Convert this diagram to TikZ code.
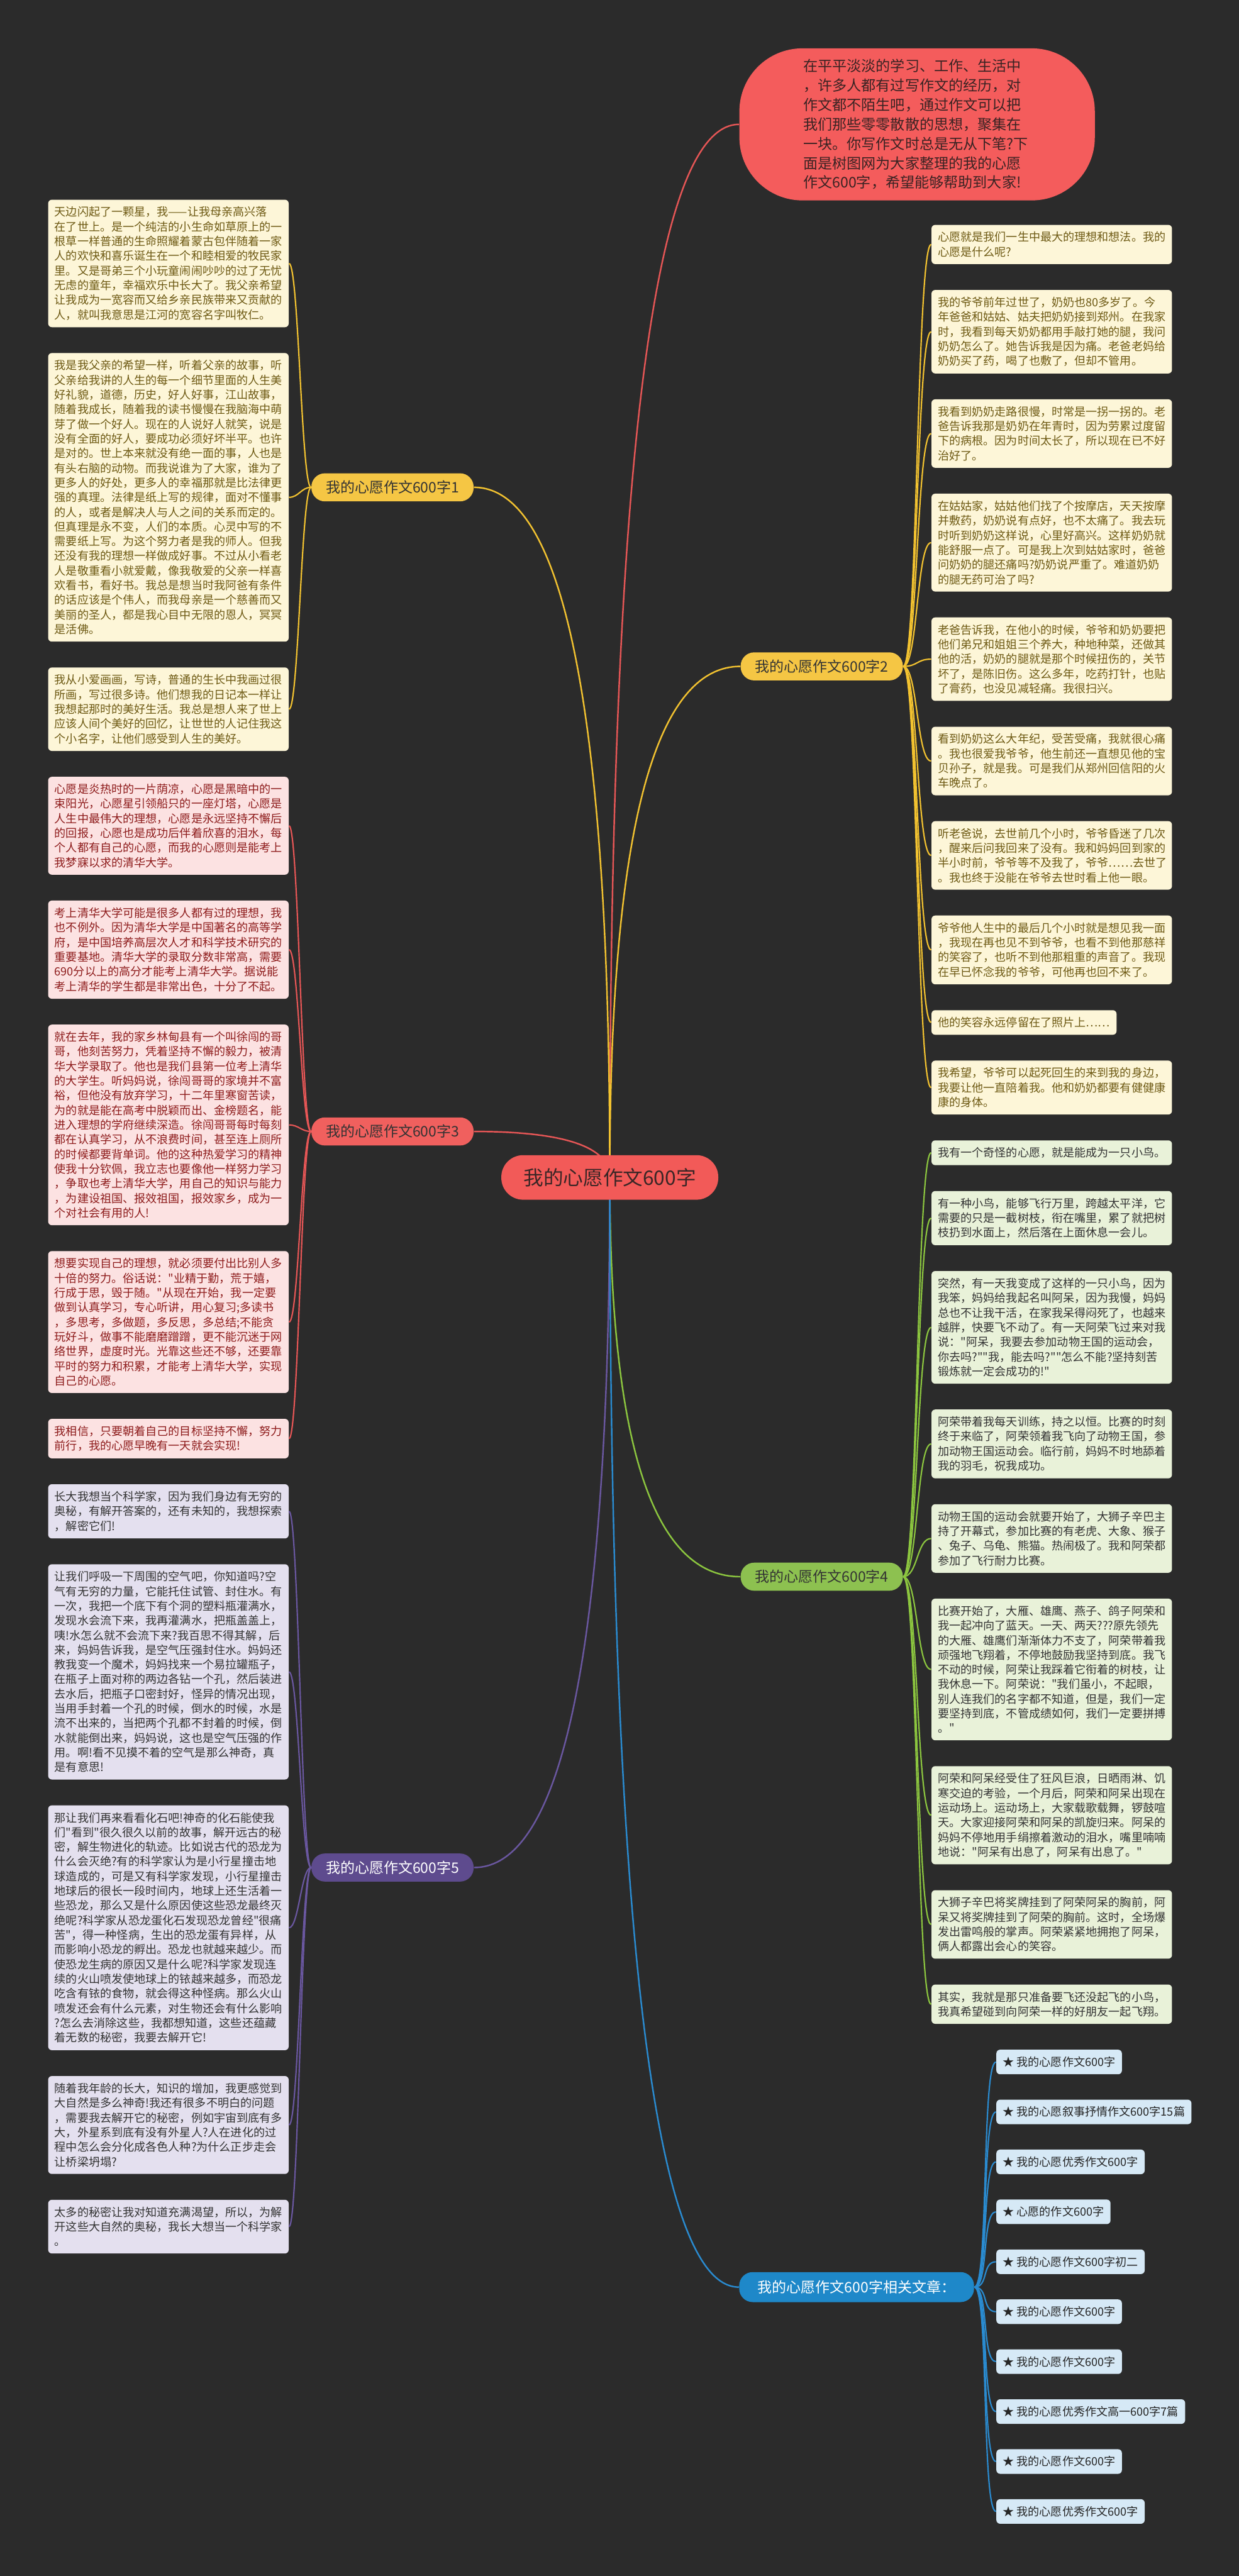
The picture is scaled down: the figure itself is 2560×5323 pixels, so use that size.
\documentclass[tikz,border=0pt]{standalone}
\usepackage{fontspec}
\newfontfamily\cjk{Noto Sans CJK SC}
\usepackage{xcolor}
\usepackage{tikz}
\usetikzlibrary{positioning, backgrounds}

\definecolor{bgdark}{HTML}{2B2B2B}
\definecolor{rootred}{HTML}{F25A58}
\definecolor{roottext}{HTML}{3A2626}
\definecolor{introred}{HTML}{F45C5C}
\definecolor{introtext}{HTML}{3A2323}
\definecolor{ypill}{HTML}{F5C644}
\definecolor{yline}{HTML}{F2C230}
\definecolor{yleafbg}{HTML}{FDF6D8}
\definecolor{yleaftx}{HTML}{6E5A14}
\definecolor{rpill}{HTML}{F0605E}
\definecolor{rline}{HTML}{E65656}
\definecolor{rleafbg}{HTML}{FCE2E2}
\definecolor{rleaftx}{HTML}{8E1C1C}
\definecolor{gpill}{HTML}{8DC150}
\definecolor{gline}{HTML}{8CC63F}
\definecolor{gleafbg}{HTML}{E9F2D9}
\definecolor{ppill}{HTML}{5E4B8E}
\definecolor{pline}{HTML}{6A57A0}
\definecolor{pleafbg}{HTML}{E4E0EF}
\definecolor{bpill}{HTML}{1E88C9}
\definecolor{bline}{HTML}{2A8BD0}
\definecolor{bleafbg}{HTML}{D6E9F6}
\definecolor{leaftx}{HTML}{333333}

\newcommand{\leaffont}{\cjk\fontsize{6.69pt}{8.62pt}\selectfont}
\newcommand{\pillfont}{\cjk\fontsize{8.5pt}{10pt}\selectfont}
\newcommand{\rootfont}{\cjk\fontsize{11.7pt}{14pt}\selectfont}
\newcommand{\introfont}{\cjk\fontsize{8.54pt}{11.4pt}\selectfont}

\tikzset{
  chip/.style={rectangle, rounded corners=2.2pt, inner xsep=3.8pt, inner ysep=4.1pt, font=\leaffont},
  leaf/.style={chip, align=left, text width=4.70cm},
  yleaf/.style={leaf, fill=yleafbg, text=yleaftx},
  rleaf/.style={leaf, fill=rleafbg, text=rleaftx},
  gleaf/.style={leaf, fill=gleafbg, text=leaftx},
  pleaf/.style={leaf, fill=pleafbg, text=leaftx},
  tag/.style={chip, fill=bleafbg, text=black!85},
  pill/.style={rectangle, rounded corners=0.28cm, minimum width=3.35cm, minimum height=0.58cm, font=\pillfont, text=leaftx},
  root/.style={rectangle, rounded corners=0.45cm, fill=rootred, text=roottext, minimum width=4.48cm, minimum height=0.92cm, font=\rootfont},
  intro/.style={rectangle, rounded corners=1.3cm, fill=introred, text=introtext, align=left, text width=4.70cm, inner xsep=1.32cm, minimum height=3.14cm, font=\introfont},
  link/.style={line width=0.9pt},
  twig/.style={line width=0.8pt},
  kidL/.style={out=180, in=0, distance=0.2cm},
  kidR/.style={out=0, in=180, distance=0.3cm},
}

\begin{document}
\begin{tikzpicture}[x=0.01cm, y=0.01cm]
        % Canvas
        \useasboundingbox (0,0) rectangle (2560,-5323);
        \begin{scope}[on background layer]
          \fill[bgdark] (0,0) rectangle (2560,-5323);
        \end{scope}

        % Root
        \node[root] (root) at (1260,-2433) {我的心愿作文600字};

        % Intro
        \node[intro] (intro) at (1895,-257) {在平平淡淡的学习、工作、生活中\\
，许多人都有过写作文的经历，对\\
作文都不陌生吧，通过作文可以把\\
我们那些零零散散的思想，聚集在\\
一块。你写作文时总是无从下笔?下\\
面是树图网为大家整理的我的心愿\\
作文600字，希望能够帮助到大家!};

        % Branches
        \node[pill, fill=ypill] (br1) at (811,-1007) {我的心愿作文600字1};
        \node[pill, fill=ypill] (br2) at (1698,-1377) {我的心愿作文600字2};
        \node[pill, fill=rpill] (br3) at (811,-2338) {我的心愿作文600字3};
        \node[pill, fill=gpill] (br4) at (1698,-3258) {我的心愿作文600字4};
        \node[pill, fill=ppill, text=white] (br5) at (811,-3859) {我的心愿作文600字5};
        \node[pill, fill=bpill, text=white, minimum width=4.85cm, minimum height=0.62cm] (br6) at (1770,-4726) {我的心愿作文600字相关文章：};

        % Branch 1 leaves
        \node[yleaf, anchor=north] (l1a) at (348,-412) {天边闪起了一颗星，我——让我母亲高兴落\\
在了世上。是一个纯洁的小生命如草原上的一\\
根草一样普通的生命照耀着蒙古包伴随着一家\\
人的欢快和喜乐诞生在一个和睦相爱的牧民家\\
里。又是哥弟三个小玩童闹闹吵吵的过了无忧\\
无虑的童年，幸福欢乐中长大了。我父亲希望\\
让我成为一宽容而又给乡亲民族带来又贡献的\\
人，就叫我意思是江河的宽容名字叫牧仁。};
        \node[yleaf, below=0.52cm of l1a] (l1b) {我是我父亲的希望一样，听着父亲的故事，听\\
父亲给我讲的人生的每一个细节里面的人生美\\
好礼貌，道德，历史，好人好事，江山故事，\\
随着我成长，随着我的读书慢慢在我脑海中萌\\
芽了做一个好人。现在的人说好人就笑，说是\\
没有全面的好人，要成功必须好坏半平。也许\\
是对的。世上本来就没有绝一面的事，人也是\\
有头右脑的动物。而我说谁为了大家，谁为了\\
更多人的好处，更多人的幸福那就是比法律更\\
强的真理。法律是纸上写的规律，面对不懂事\\
的人，或者是解决人与人之间的关系而定的。\\
但真理是永不变，人们的本质。心灵中写的不\\
需要纸上写。为这个努力者是我的师人。但我\\
还没有我的理想一样做成好事。不过从小看老\\
人是敬重看小就爱戴，像我敬爱的父亲一样喜\\
欢看书，看好书。我总是想当时我阿爸有条件\\
的话应该是个伟人，而我母亲是一个慈善而又\\
美丽的圣人，都是我心目中无限的恩人，冥冥\\
是活佛。};
        \node[yleaf, below=0.52cm of l1b] (l1c) {我从小爱画画，写诗，普通的生长中我画过很\\
所画，写过很多诗。他们想我的日记本一样让\\
我想起那时的美好生活。我总是想人来了世上\\
应该人间个美好的回忆，让世世的人记住我这\\
个小名字，让他们感受到人生的美好。};

        % Branch 3 leaves
        \node[rleaf, below=0.52cm of l1c] (l3a) {心愿是炎热时的一片荫凉，心愿是黑暗中的一\\
束阳光，心愿星引领船只的一座灯塔，心愿是\\
人生中最伟大的理想，心愿是永远坚持不懈后\\
的回报，心愿也是成功后伴着欣喜的泪水，每\\
个人都有自己的心愿，而我的心愿则是能考上\\
我梦寐以求的清华大学。};
        \node[rleaf, below=0.52cm of l3a] (l3b) {考上清华大学可能是很多人都有过的理想，我\\
也不例外。因为清华大学是中国著名的高等学\\
府，是中国培养高层次人才和科学技术研究的\\
重要基地。清华大学的录取分数非常高，需要\\
690分以上的高分才能考上清华大学。据说能\\
考上清华的学生都是非常出色，十分了不起。};
        \node[rleaf, below=0.52cm of l3b] (l3c) {就在去年，我的家乡林甸县有一个叫徐闯的哥\\
哥，他刻苦努力，凭着坚持不懈的毅力，被清\\
华大学录取了。他也是我们县第一位考上清华\\
的大学生。听妈妈说，徐闯哥哥的家境并不富\\
裕，但他没有放弃学习，十二年里寒窗苦读，\\
为的就是能在高考中脱颖而出、金榜题名，能\\
进入理想的学府继续深造。徐闯哥哥每时每刻\\
都在认真学习，从不浪费时间，甚至连上厕所\\
的时候都要背单词。他的这种热爱学习的精神\\
使我十分钦佩，我立志也要像他一样努力学习\\
，争取也考上清华大学，用自己的知识与能力\\
，为建设祖国、报效祖国，报效家乡，成为一\\
个对社会有用的人!};
        \node[rleaf, below=0.52cm of l3c] (l3d) {想要实现自己的理想，就必须要付出比别人多\\
十倍的努力。俗话说："业精于勤，荒于嬉，\\
行成于思，毁于随。"从现在开始，我一定要\\
做到认真学习，专心听讲，用心复习;多读书\\
，多思考，多做题，多反思，多总结;不能贪\\
玩好斗，做事不能磨磨蹭蹭，更不能沉迷于网\\
络世界，虚度时光。光靠这些还不够，还要靠\\
平时的努力和积累，才能考上清华大学，实现\\
自己的心愿。};
        \node[rleaf, below=0.52cm of l3d] (l3e) {我相信，只要朝着自己的目标坚持不懈，努力\\
前行，我的心愿早晚有一天就会实现!};

        % Branch 5 leaves
        \node[pleaf, below=0.52cm of l3e] (l5a) {长大我想当个科学家，因为我们身边有无穷的\\
奥秘，有解开答案的，还有未知的，我想探索\\
，解密它们!};
        \node[pleaf, below=0.52cm of l5a] (l5b) {让我们呼吸一下周围的空气吧，你知道吗?空\\
气有无穷的力量，它能托住试管、封住水。有\\
一次，我把一个底下有个洞的塑料瓶灌满水，\\
发现水会流下来，我再灌满水，把瓶盖盖上，\\
咦!水怎么就不会流下来?我百思不得其解，后\\
来，妈妈告诉我，是空气压强封住水。妈妈还\\
教我变一个魔术，妈妈找来一个易拉罐瓶子，\\
在瓶子上面对称的两边各钻一个孔，然后装进\\
去水后，把瓶子口密封好，怪异的情况出现，\\
当用手封着一个孔的时候，倒水的时候，水是\\
流不出来的，当把两个孔都不封着的时候，倒\\
水就能倒出来，妈妈说，这也是空气压强的作\\
用。啊!看不见摸不着的空气是那么神奇，真\\
是有意思!};
        \node[pleaf, below=0.52cm of l5b] (l5c) {那让我们再来看看化石吧!神奇的化石能使我\\
们"看到"很久很久以前的故事，解开远古的秘\\
密，解生物进化的轨迹。比如说古代的恐龙为\\
什么会灭绝?有的科学家认为是小行星撞击地\\
球造成的，可是又有科学家发现，小行星撞击\\
地球后的很长一段时间内，地球上还生活着一\\
些恐龙，那么又是什么原因使这些恐龙最终灭\\
绝呢?科学家从恐龙蛋化石发现恐龙曾经"很痛\\
苦"，得一种怪病，生出的恐龙蛋有异样，从\\
而影响小恐龙的孵出。恐龙也就越来越少。而\\
使恐龙生病的原因又是什么呢?科学家发现连\\
续的火山喷发使地球上的铱越来越多，而恐龙\\
吃含有铱的食物，就会得这种怪病。那么火山\\
喷发还会有什么元素，对生物还会有什么影响\\
?怎么去消除这些，我都想知道，这些还蕴藏\\
着无数的秘密，我要去解开它!};
        \node[pleaf, below=0.52cm of l5c] (l5d) {随着我年龄的长大，知识的增加，我更感觉到\\
大自然是多么神奇!我还有很多不明白的问题\\
，需要我去解开它的秘密，例如宇宙到底有多\\
大，外星系到底有没有外星人?人在进化的过\\
程中怎么会分化成各色人种?为什么正步走会\\
让桥梁坍塌?};
        \node[pleaf, below=0.52cm of l5d] (l5e) {太多的秘密让我对知道充满渴望，所以，为解\\
开这些大自然的奥秘，我长大想当一个科学家\\
。};

        % Branch 2 leaves
        \node[yleaf, anchor=north west] (r2a) at (1924,-464) {心愿就是我们一生中最大的理想和想法。我的\\
心愿是什么呢?};
        \node[yleaf, below right=0.52cm and 0cm of r2a.south west] (r2b) {我的爷爷前年过世了，奶奶也80多岁了。今\\
年爸爸和姑姑、姑夫把奶奶接到郑州。在我家\\
时，我看到每天奶奶都用手敲打她的腿，我问\\
奶奶怎么了。她告诉我是因为痛。老爸老妈给\\
奶奶买了药，喝了也敷了，但却不管用。};
        \node[yleaf, below right=0.52cm and 0cm of r2b.south west] (r2c) {我看到奶奶走路很慢，时常是一拐一拐的。老\\
爸告诉我那是奶奶在年青时，因为劳累过度留\\
下的病根。因为时间太长了，所以现在已不好\\
治好了。};
        \node[yleaf, below right=0.52cm and 0cm of r2c.south west] (r2d) {在姑姑家，姑姑他们找了个按摩店，天天按摩\\
并敷药，奶奶说有点好，也不太痛了。我去玩\\
时听到奶奶这样说，心里好高兴。这样奶奶就\\
能舒服一点了。可是我上次到姑姑家时，爸爸\\
问奶奶的腿还痛吗?奶奶说严重了。难道奶奶\\
的腿无药可治了吗?};
        \node[yleaf, below right=0.52cm and 0cm of r2d.south west] (r2e) {老爸告诉我，在他小的时候，爷爷和奶奶要把\\
他们弟兄和姐姐三个养大，种地种菜，还做其\\
他的活，奶奶的腿就是那个时候扭伤的，关节\\
坏了，是陈旧伤。这么多年，吃药打针，也贴\\
了膏药，也没见减轻痛。我很扫兴。};
        \node[yleaf, below right=0.52cm and 0cm of r2e.south west] (r2f) {看到奶奶这么大年纪，受苦受痛，我就很心痛\\
。我也很爱我爷爷，他生前还一直想见他的宝\\
贝孙子，就是我。可是我们从郑州回信阳的火\\
车晚点了。};
        \node[yleaf, below right=0.52cm and 0cm of r2f.south west] (r2g) {听老爸说，去世前几个小时，爷爷昏迷了几次\\
，醒来后问我回来了没有。我和妈妈回到家的\\
半小时前，爷爷等不及我了，爷爷……去世了\\
。我也终于没能在爷爷去世时看上他一眼。};
        \node[yleaf, below right=0.52cm and 0cm of r2g.south west] (r2h) {爷爷他人生中的最后几个小时就是想见我一面\\
，我现在再也见不到爷爷，也看不到他那慈祥\\
的笑容了，也听不到他那粗重的声音了。我现\\
在早已怀念我的爷爷，可他再也回不来了。};
        \node[chip, fill=yleafbg, text=yleaftx, below right=0.52cm and 0cm of r2h.south west] (r2i) {他的笑容永远停留在了照片上……};
        \node[yleaf, below right=0.52cm and 0cm of r2i.south west] (r2j) {我希望，爷爷可以起死回生的来到我的身边，\\
我要让他一直陪着我。他和奶奶都要有健健康\\
康的身体。};

        % Branch 4 leaves
        \node[gleaf, below right=0.52cm and 0cm of r2j.south west] (r4a) {我有一个奇怪的心愿，就是能成为一只小鸟。};
        \node[gleaf, below right=0.52cm and 0cm of r4a.south west] (r4b) {有一种小鸟，能够飞行万里，跨越太平洋，它\\
需要的只是一截树枝，衔在嘴里，累了就把树\\
枝扔到水面上，然后落在上面休息一会儿。};
        \node[gleaf, below right=0.52cm and 0cm of r4b.south west] (r4c) {突然，有一天我变成了这样的一只小鸟，因为\\
我笨，妈妈给我起名叫阿呆，因为我慢，妈妈\\
总也不让我干活，在家我呆得闷死了，也越来\\
越胖，快要飞不动了。有一天阿荣飞过来对我\\
说："阿呆，我要去参加动物王国的运动会，\\
你去吗?""我，能去吗?""怎么不能?坚持刻苦\\
锻炼就一定会成功的!"};
        \node[gleaf, below right=0.52cm and 0cm of r4c.south west] (r4d) {阿荣带着我每天训练，持之以恒。比赛的时刻\\
终于来临了，阿荣领着我飞向了动物王国，参\\
加动物王国运动会。临行前，妈妈不时地舔着\\
我的羽毛，祝我成功。};
        \node[gleaf, below right=0.52cm and 0cm of r4d.south west] (r4e) {动物王国的运动会就要开始了，大狮子辛巴主\\
持了开幕式，参加比赛的有老虎、大象、猴子\\
、兔子、乌龟、熊猫。热闹极了。我和阿荣都\\
参加了飞行耐力比赛。};
        \node[gleaf, below right=0.52cm and 0cm of r4e.south west] (r4f) {比赛开始了，大雁、雄鹰、燕子、鸽子阿荣和\\
我一起冲向了蓝天。一天、两天???原先领先\\
的大雁、雄鹰们渐渐体力不支了，阿荣带着我\\
顽强地飞翔着，不停地鼓励我坚持到底。我飞\\
不动的时候，阿荣让我踩着它衔着的树枝，让\\
我休息一下。阿荣说："我们虽小，不起眼，\\
别人连我们的名字都不知道，但是，我们一定\\
要坚持到底，不管成绩如何，我们一定要拼搏\\
。"};
        \node[gleaf, below right=0.52cm and 0cm of r4f.south west] (r4g) {阿荣和阿呆经受住了狂风巨浪，日晒雨淋、饥\\
寒交迫的考验，一个月后，阿荣和阿呆出现在\\
运动场上。运动场上，大家载歌载舞，锣鼓喧\\
天。大家迎接阿荣和阿呆的凯旋归来。阿呆的\\
妈妈不停地用手绢擦着激动的泪水，嘴里喃喃\\
地说："阿呆有出息了，阿呆有出息了。"};
        \node[gleaf, below right=0.52cm and 0cm of r4g.south west] (r4h) {大狮子辛巴将奖牌挂到了阿荣阿呆的胸前，阿\\
呆又将奖牌挂到了阿荣的胸前。这时，全场爆\\
发出雷鸣般的掌声。阿荣紧紧地拥抱了阿呆，\\
俩人都露出会心的笑容。};
        \node[gleaf, below right=0.52cm and 0cm of r4h.south west] (r4i) {其实，我就是那只准备要飞还没起飞的小鸟，\\
我真希望碰到向阿荣一样的好朋友一起飞翔。};

        % Branch 6 leaves
        \node[tag, below right=0.52cm and 1.34cm of r4i.south west] (r6a) {★ 我的心愿作文600字};
        \node[tag, below right=0.51cm and 0cm of r6a.south west] (r6b) {★ 我的心愿叙事抒情作文600字15篇};
        \node[tag, below right=0.51cm and 0cm of r6b.south west] (r6c) {★ 我的心愿优秀作文600字};
        \node[tag, below right=0.51cm and 0cm of r6c.south west] (r6d) {★ 心愿的作文600字};
        \node[tag, below right=0.51cm and 0cm of r6d.south west] (r6e) {★ 我的心愿作文600字初二};
        \node[tag, below right=0.51cm and 0cm of r6e.south west] (r6f) {★ 我的心愿作文600字};
        \node[tag, below right=0.51cm and 0cm of r6f.south west] (r6g) {★ 我的心愿作文600字};
        \node[tag, below right=0.51cm and 0cm of r6g.south west] (r6h) {★ 我的心愿优秀作文高一600字7篇};
        \node[tag, below right=0.51cm and 0cm of r6h.south west] (r6i) {★ 我的心愿作文600字};
        \node[tag, below right=0.51cm and 0cm of r6i.south west] (r6j) {★ 我的心愿优秀作文600字};

        % Root connections (behind the root)
        \begin{scope}[on background layer]
          \draw[link, rline] (root.center) .. controls +(0,1451) and +(-179,0) .. (intro.west);
          \draw[link, yline] (root.center) .. controls +(0,704) and +(-180,0) .. (br2.west);
          \draw[link, yline] (root.center) .. controls +(0,951) and +(188,0) .. (br1.east);
          \draw[link, rline] (root.center) .. controls +(0,63) and +(188,0) .. (br3.east);
          \draw[link, gline] (root.center) .. controls +(0,-550) and +(-180,0) .. (br4.west);
          \draw[link, pline] (root.center) .. controls +(0,-951) and +(188,0) .. (br5.east);
          \draw[link, bline] (root.center) .. controls +(0,-1529) and +(-178,0) .. (br6.west);
        \end{scope}

        % Branch 1 connections
        \draw[twig, yline] (br1.west) to[kidL] (l1a.east);
        \draw[twig, yline] (br1.west) to[kidL] (l1b.east);
        \draw[twig, yline] (br1.west) to[kidL] (l1c.east);

        % Branch 2 connections
        \draw[twig, yline] (br2.east) to[kidR] (r2a.west);
        \draw[twig, yline] (br2.east) to[kidR] (r2b.west);
        \draw[twig, yline] (br2.east) to[kidR] (r2c.west);
        \draw[twig, yline] (br2.east) to[kidR] (r2d.west);
        \draw[twig, yline] (br2.east) to[kidR] (r2e.west);
        \draw[twig, yline] (br2.east) to[kidR] (r2f.west);
        \draw[twig, yline] (br2.east) to[kidR] (r2g.west);
        \draw[twig, yline] (br2.east) to[kidR] (r2h.west);
        \draw[twig, yline] (br2.east) to[kidR] (r2i.west);
        \draw[twig, yline] (br2.east) to[kidR] (r2j.west);

        % Branch 3 connections
        \draw[twig, rline] (br3.west) to[kidL] (l3a.east);
        \draw[twig, rline] (br3.west) to[kidL] (l3b.east);
        \draw[twig, rline] (br3.west) to[kidL] (l3c.east);
        \draw[twig, rline] (br3.west) to[kidL] (l3d.east);
        \draw[twig, rline] (br3.west) to[kidL] (l3e.east);

        % Branch 4 connections
        \draw[twig, gline] (br4.east) to[kidR] (r4a.west);
        \draw[twig, gline] (br4.east) to[kidR] (r4b.west);
        \draw[twig, gline] (br4.east) to[kidR] (r4c.west);
        \draw[twig, gline] (br4.east) to[kidR] (r4d.west);
        \draw[twig, gline] (br4.east) to[kidR] (r4e.west);
        \draw[twig, gline] (br4.east) to[kidR] (r4f.west);
        \draw[twig, gline] (br4.east) to[kidR] (r4g.west);
        \draw[twig, gline] (br4.east) to[kidR] (r4h.west);
        \draw[twig, gline] (br4.east) to[kidR] (r4i.west);

        % Branch 5 connections
        \draw[twig, pline] (br5.west) to[kidL] (l5a.east);
        \draw[twig, pline] (br5.west) to[kidL] (l5b.east);
        \draw[twig, pline] (br5.west) to[kidL] (l5c.east);
        \draw[twig, pline] (br5.west) to[kidL] (l5d.east);
        \draw[twig, pline] (br5.west) to[kidL] (l5e.east);

        % Branch 6 connections
        \draw[twig, bline] (br6.east) to[kidR] (r6a.west);
        \draw[twig, bline] (br6.east) to[kidR] (r6b.west);
        \draw[twig, bline] (br6.east) to[kidR] (r6c.west);
        \draw[twig, bline] (br6.east) to[kidR] (r6d.west);
        \draw[twig, bline] (br6.east) to[kidR] (r6e.west);
        \draw[twig, bline] (br6.east) to[kidR] (r6f.west);
        \draw[twig, bline] (br6.east) to[kidR] (r6g.west);
        \draw[twig, bline] (br6.east) to[kidR] (r6h.west);
        \draw[twig, bline] (br6.east) to[kidR] (r6i.west);
        \draw[twig, bline] (br6.east) to[kidR] (r6j.west);
\end{tikzpicture}
\end{document}
